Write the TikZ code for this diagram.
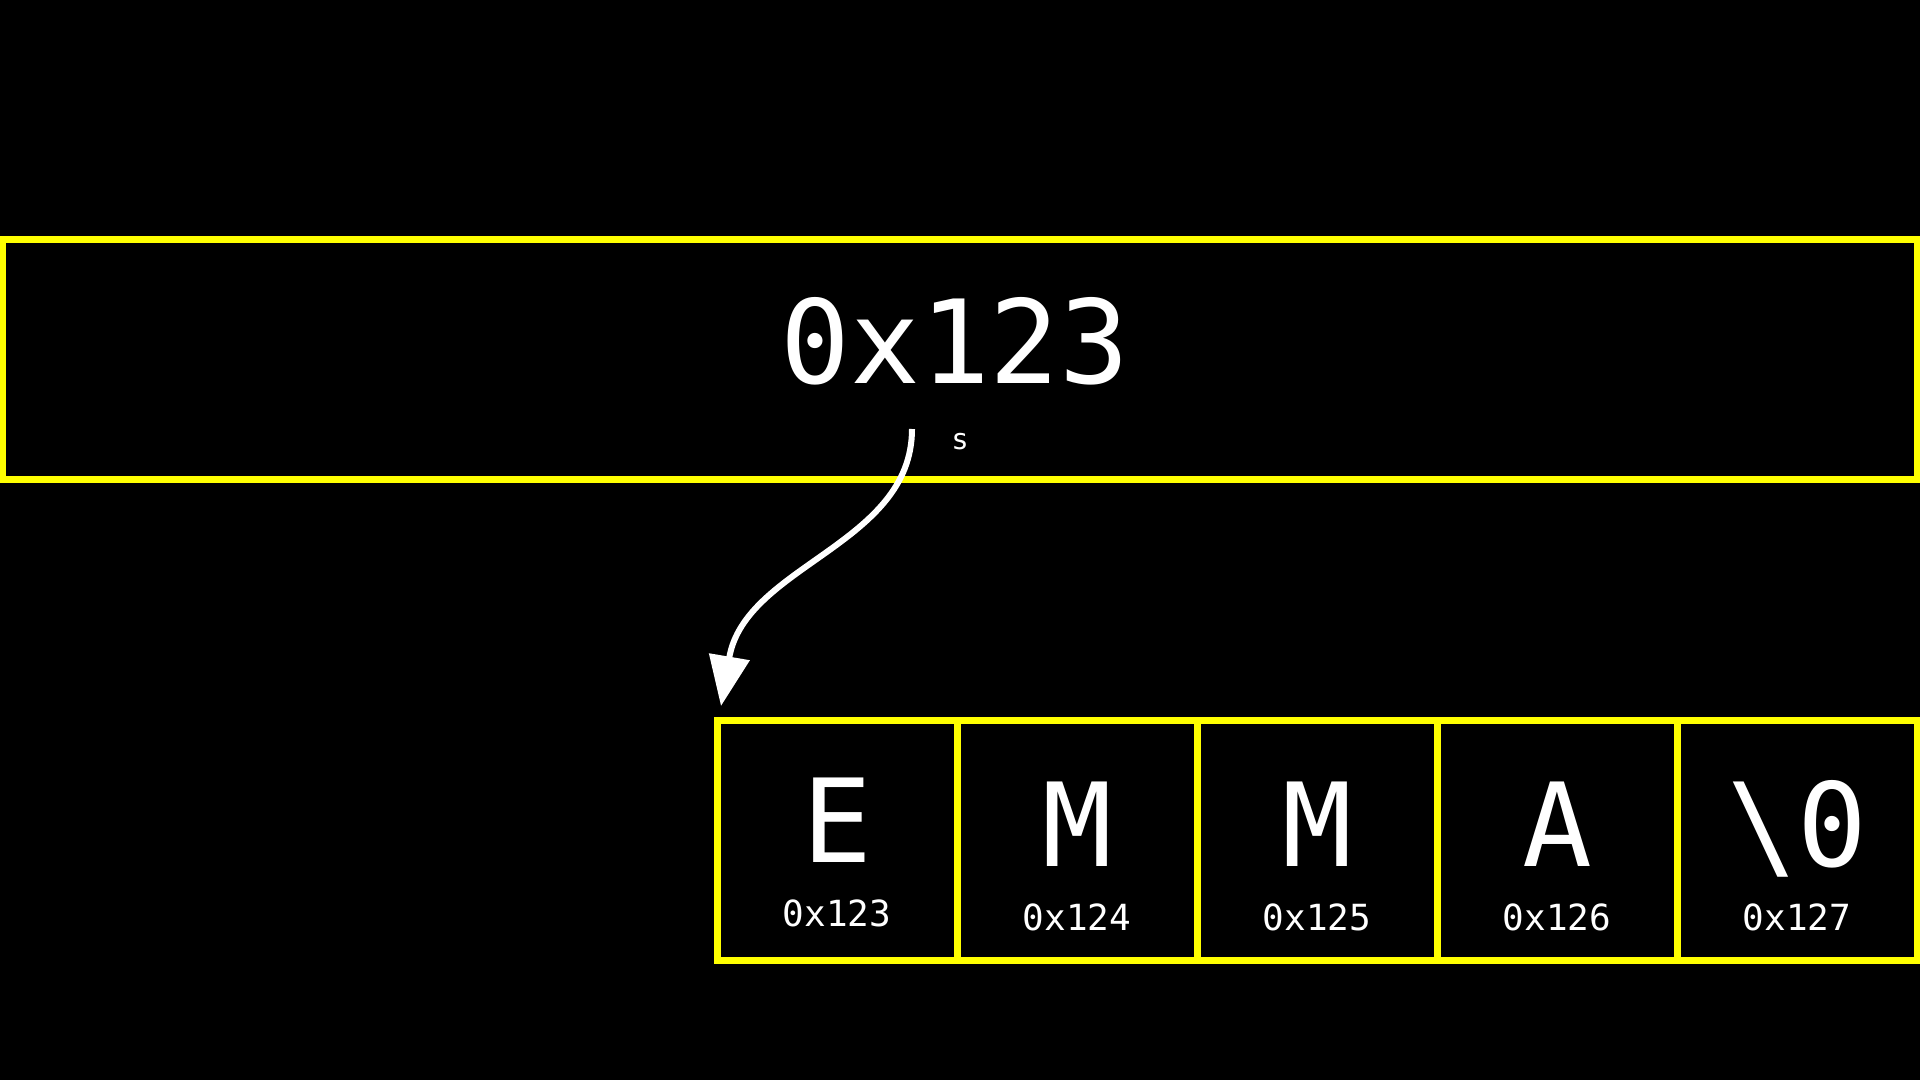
\documentclass[tikz,border=0pt]{standalone}
\usepackage{fontspec}
\newfontfamily\monof{DejaVu Sans Mono}
\usetikzlibrary{arrows.meta}
\definecolor{boxyellow}{RGB}{255,255,0}
\tikzset{
  ybox/.style={draw=boxyellow, line width=7pt, inner sep=0pt, fill=none},
  cellbox/.style={ybox, minimum width=240pt, minimum height=240pt},
  bigtext/.style={text=white, anchor=base, inner sep=0pt, font=\monof\fontsize{116}{116}\selectfont},
  addrtext/.style={text=white, anchor=base, inner sep=0pt, font=\monof\fontsize{36}{36}\selectfont},
  vartext/.style={text=white, anchor=base, inner sep=0pt, font=\monof\fontsize{29}{29}\selectfont},
  ptrarrow/.style={draw=white, line width=6pt, -{Triangle[width=40pt,length=50pt]}}
}
\begin{document}
\begin{tikzpicture}[x=1pt,y=-1pt]
\useasboundingbox (0,0) rectangle (1920,1080);
\fill[black] (0,0) rectangle (1920,1080);
% pointer variable box
\node[ybox, minimum width=1914.5pt, minimum height=240pt] (ptr) at (959.75,359.5) {};
\node[bigtext] (ptrval) at (955,383) {0x123};
\node[vartext] (ptrname) at (960,449) {s};
% character cells
\node[cellbox] (c0) at (837,840) {};
\node[cellbox] (c1) at (1077,840) {};
\node[cellbox] (c2) at (1317,840) {};
\node[cellbox] (c3) at (1557,840) {};
\node[cellbox] (c4) at (1797,840) {};
\node[bigtext] (l0) at (837,862) {E};
\node[bigtext] (l1) at (1077,866) {M};
\node[bigtext] (l2) at (1317,866) {M};
\node[bigtext] (l3) at (1557,866) {A};
\node[bigtext] (l4) at (1797,866) {\textbackslash 0};
\node[addrtext] (a0) at (837,926) {0x123};
\node[addrtext] (a1) at (1077,930) {0x124};
\node[addrtext] (a2) at (1317,930) {0x125};
\node[addrtext] (a3) at (1557,930) {0x126};
\node[addrtext] (a4) at (1797,930) {0x127};
% pointer arrow
\coordinate (pstart) at (912,429);
\coordinate (ptip) at (721,706);
\draw[ptrarrow] (pstart) .. controls (912,545) and (745,565) .. (ptip);
\end{tikzpicture}
\end{document}
